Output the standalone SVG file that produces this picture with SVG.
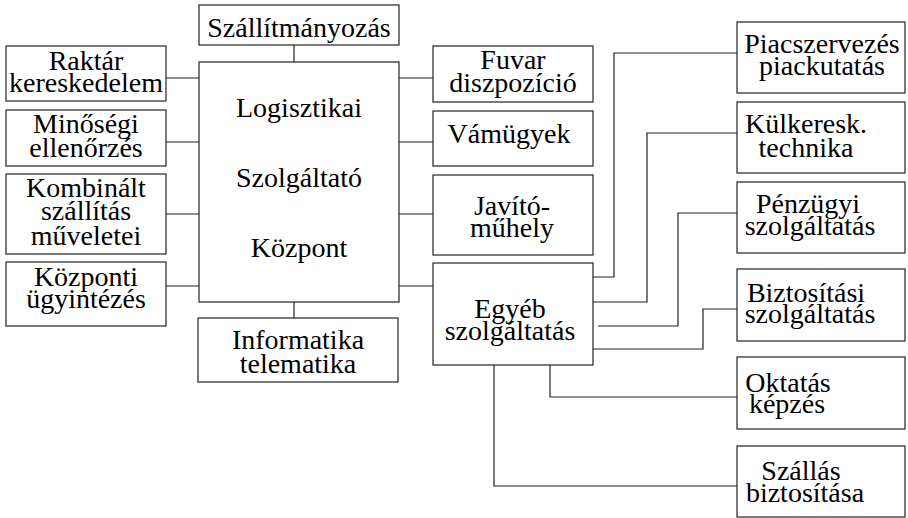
<svg xmlns="http://www.w3.org/2000/svg" width="908" height="518" viewBox="0 0 908 518" font-family="Liberation Serif, serif">
<style>
.box{fill:#fff;stroke:#333;stroke-width:1.3}
.ln{fill:none;stroke:#222;stroke-width:1.2}
</style>
<rect width="908" height="518" fill="#fff"/>
<g id="connectors">
<path class="ln" d="M294 45V62M294 302V318M166 78H199M166 142H199M166 214H199M166 286H199M399 78H433M399 142H433M399 214H433M399 286H433"/>
<path class="ln" d="M737 53H614V277H590"/>
<path class="ln" d="M737 133H647V302H590"/>
<path class="ln" d="M737 213H678V326H598"/>
<path class="ln" d="M737 309H703V349H590"/>
<path class="ln" d="M550 365V397H737"/>
<path class="ln" d="M494 365V486H737"/>
</g>
<g font-family="Liberation Serif" font-size="28" text-anchor="middle" fill="#000">
<g id="center"><rect class="box" x="199" y="62" width="200" height="240"/><text font-family="Liberation Serif"><tspan x="299" y="117">Logisztikai</tspan><tspan x="299" y="187">Szolgáltató</tspan><tspan x="299" y="257">Központ</tspan></text></g>
<g id="szallitmanyozas"><rect class="box" x="199" y="5" width="200" height="40"/><text font-family="Liberation Serif" x="299" y="37">Szállítmányozás</text></g>
<g id="informatika"><rect class="box" x="198" y="318" width="200" height="64"/><text font-family="Liberation Serif"><tspan x="298" y="349">Informatika</tspan><tspan x="298" y="373">telematika</tspan></text></g>
<g id="raktar"><rect class="box" x="6" y="46" width="160" height="55"/><text font-family="Liberation Serif"><tspan x="86" y="70">Raktár</tspan><tspan x="86" y="92">kereskedelem</tspan></text></g>
<g id="minosegi"><rect class="box" x="6" y="110" width="160" height="56"/><text font-family="Liberation Serif"><tspan x="86" y="133">Minőségi</tspan><tspan x="86" y="157">ellenőrzés</tspan></text></g>
<g id="kombinalt"><rect class="box" x="6" y="174" width="160" height="80"/><text font-family="Liberation Serif"><tspan x="86" y="197">Kombinált</tspan><tspan x="86" y="220">szállítás</tspan><tspan x="86" y="245">műveletei</tspan></text></g>
<g id="kozponti"><rect class="box" x="6" y="262" width="160" height="64"/><text font-family="Liberation Serif"><tspan x="86" y="286">Központi</tspan><tspan x="86" y="308">ügyintézés</tspan></text></g>
<g id="fuvar"><rect class="box" x="433" y="46" width="160" height="56"/><text font-family="Liberation Serif"><tspan x="513" y="69">Fuvar</tspan><tspan x="513" y="92">diszpozíció</tspan></text></g>
<g id="vamugyek"><rect class="box" x="433" y="111" width="160" height="55"/><text font-family="Liberation Serif" x="509" y="143">Vámügyek</text></g>
<g id="javito"><rect class="box" x="433" y="175" width="160" height="80"/><text font-family="Liberation Serif"><tspan x="512" y="215">Javító-</tspan><tspan x="512" y="237">műhely</tspan></text></g>
<g id="egyeb"><rect class="box" x="433" y="263" width="160" height="102"/><text font-family="Liberation Serif"><tspan x="510" y="318">Egyéb</tspan><tspan x="510" y="340">szolgáltatás</tspan></text></g>
<g id="piac"><rect class="box" x="737" y="22" width="168" height="71"/><text font-family="Liberation Serif"><tspan x="822" y="53">Piacszervezés</tspan><tspan x="822" y="75">piackutatás</tspan></text></g>
<g id="kulkeresk"><rect class="box" x="737" y="102" width="168" height="71"/><text font-family="Liberation Serif"><tspan x="806" y="133">Külkeresk.</tspan><tspan x="806" y="157">technika</tspan></text></g>
<g id="penzugyi"><rect class="box" x="737" y="182" width="168" height="71"/><text font-family="Liberation Serif"><tspan x="808" y="213">Pénzügyi</tspan><tspan x="810" y="235">szolgáltatás</tspan></text></g>
<g id="biztositasi"><rect class="box" x="737" y="269" width="168" height="72"/><text font-family="Liberation Serif"><tspan x="806" y="302">Biztosítási</tspan><tspan x="810" y="323">szolgáltatás</tspan></text></g>
<g id="oktatas"><rect class="box" x="737" y="357" width="168" height="72"/><text font-family="Liberation Serif"><tspan x="788" y="392">Oktatás</tspan><tspan x="787" y="413">képzés</tspan></text></g>
<g id="szallas"><rect class="box" x="737" y="446" width="168" height="71"/><text font-family="Liberation Serif"><tspan x="801" y="480">Szállás</tspan><tspan x="805" y="502">biztosítása</tspan></text></g>
</g>
</svg>
